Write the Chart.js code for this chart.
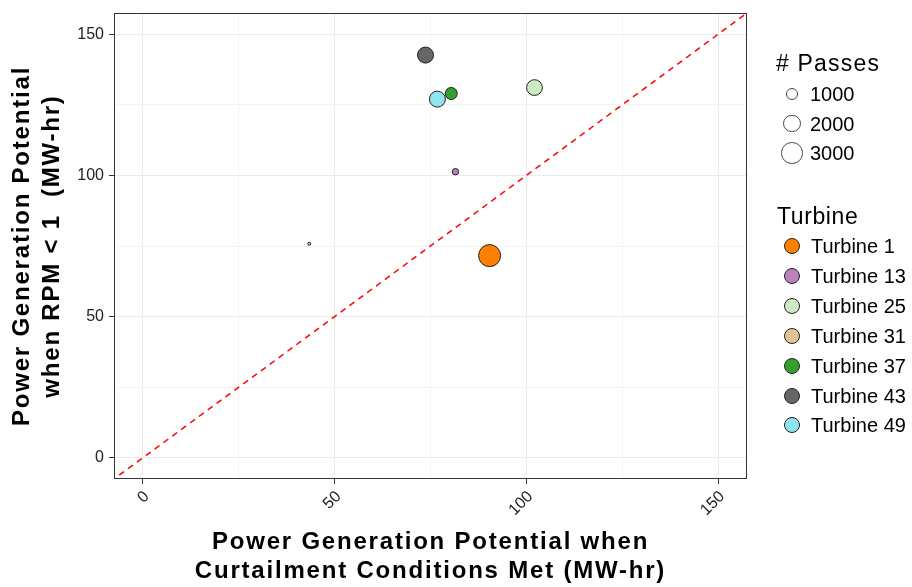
<!DOCTYPE html>
<html>
<head>
<meta charset="utf-8">
<script src="https://cdn.jsdelivr.net/npm/chart.js@4.4.1/dist/chart.umd.min.js"></script>
<style>
  html, body { margin: 0; padding: 0; background: #fff; }
  #wrap { position: relative; width: 912px; height: 587px; }
  #chart { position: absolute; left: 0; top: 0; }
  .lg { position: absolute; font-family: "Liberation Sans", Arial, sans-serif; color: #000;
        line-height: 1; white-space: pre; transform: translateY(-50%); }
  .dot { position: absolute; box-sizing: border-box; border-radius: 50%; }
</style>
</head>
<body>
<div id="wrap">
  <canvas id="chart" width="912" height="587"></canvas>
  <div id="legend"></div>
</div>
<script>
// data
const turbines = ['Turbine 1', 'Turbine 13', 'Turbine 25', 'Turbine 31', 'Turbine 37', 'Turbine 43', 'Turbine 49'];
const curtailPower = [90.4, 81.5, 102.1, 43.4, 80.4, 73.7, 76.8];
const rpmPower = [71.6, 101.3, 131.1, 75.8, 129.0, 142.6, 127.0];
const passes = [3480, 500, 1790, 400, 1100, 1850, 1840];
const passBreaks = [1000, 2000, 3000];
const axisLabels = [0, 50, 100, 150];
const gridVals = [0, 25, 50, 75, 100, 125, 150];

const turbineColors = ['#FF7F00', '#BC80BD', '#CCEBC5', '#E5C494', '#33A02C', '#666666', '#8FE4EE'];
const FONT = '"Liberation Sans", Arial, sans-serif';

// ggplot style area scale: diameter grows with sqrt of rescaled passes
const pMin = Math.min(...passes), pMax = Math.max(...passes);
function passDiameter(p) {
    return 4 + 19 * Math.sqrt(Math.max(0, p - pMin) / (pMax - pMin));
}

const datasets = turbines.map((name, i) => ({
    type: 'scatter',
    label: name,
    data: [{ x: curtailPower[i], y: rpmPower[i] }],
    backgroundColor: turbineColors[i],
    borderColor: '#222',
    borderWidth: 1,
    pointRadius: (passDiameter(passes[i]) - 1) / 2,
    pointHoverRadius: (passDiameter(passes[i]) - 1) / 2
}));

// 1:1 reference line
datasets.push({
    type: 'line',
    label: 'one-to-one',
    data: [{ x: -20, y: -20 }, { x: 180, y: 180 }],
    borderColor: '#FF0000',
    borderWidth: 1.5,
    borderDash: [6, 5],
    pointRadius: 0,
    fill: false
});

const gridColor = ctx => (ctx.tick && ctx.tick.value % 50 === 0) ? '#EBEBEB' : '#F3F3F3';
const tickColor = ctx => (ctx.tick && ctx.tick.value % 50 === 0) ? '#333' : 'rgba(0,0,0,0)';
const setTicks = s => { s.ticks = gridVals.map(v => ({ value: v })); };

// spaced-out title text like the reference, ticks are drawn separately
const spacingPlugin = {
    id: 'spacing',
    beforeDraw(chart) { chart.ctx.letterSpacing = '1.8px'; },
    beforeDatasetsDraw(chart) { chart.ctx.letterSpacing = '0px'; }
};

const panelPlugin = {
    id: 'panel',
    afterDraw(chart) {
        const { ctx, chartArea: a, scales: { x, y } } = chart;
        ctx.save();
        ctx.letterSpacing = '0px';
        ctx.strokeStyle = '#333';
        ctx.lineWidth = 1;
        ctx.strokeRect(Math.round(a.left) + 0.5, Math.round(a.top) + 0.5,
            Math.round(a.right - a.left) - 1, Math.round(a.bottom - a.top) - 1);

        ctx.font = '16px ' + FONT;
        ctx.fillStyle = '#222';
        // y tick labels
        ctx.textAlign = 'right';
        ctx.textBaseline = 'middle';
        axisLabels.forEach(v => {
            ctx.fillText(String(v), a.left - 10, y.getPixelForValue(v));
        });
        // x tick labels at 45 degrees
        axisLabels.forEach(v => {
            ctx.save();
            ctx.translate(x.getPixelForValue(v) + 4, a.bottom + 15);
            ctx.rotate(-Math.PI / 4);
            ctx.fillText(String(v), 0, 0);
            ctx.restore();
        });
        ctx.restore();
    }
};

new Chart(document.getElementById('chart'), {
    type: 'scatter',
    data: { datasets: datasets },
    options: {
        responsive: false,
        animation: false,
        layout: { padding: { left: 0, right: 165, top: 13, bottom: 0 } },
        plugins: { legend: { display: false }, tooltip: { enabled: false } },
        scales: {
            x: {
                type: 'linear',
                min: -7.5,
                max: 157.5,
                afterBuildTicks: setTicks,
                afterFit: s => { s.height = 108; },
                grid: { color: gridColor, tickColor: tickColor, tickLength: 5, lineWidth: 1 },
                border: { display: false },
                ticks: { color: 'rgba(0,0,0,0)', callback: v => '', maxRotation: 0 },
                title: {
                    display: true,
                    text: ['Power Generation Potential when', 'Curtailment Conditions Met (MW-hr)'],
                    color: '#000',
                    font: { family: FONT, size: 24, weight: 'bold', lineHeight: 1.2 },
                    padding: { top: 0, bottom: 1 }
                }
            },
            y: {
                type: 'linear',
                min: -7.5,
                max: 157.5,
                afterBuildTicks: setTicks,
                afterFit: s => { s.width = 114; },
                grid: { color: gridColor, tickColor: tickColor, tickLength: 5, lineWidth: 1 },
                border: { display: false },
                ticks: { color: 'rgba(0,0,0,0)', callback: v => '' },
                title: {
                    display: true,
                    text: ['Power Generation Potential', 'when RPM < 1  (MW-hr)'],
                    color: '#000',
                    font: { family: FONT, size: 24, weight: 'bold', lineHeight: 1.25 },
                    padding: { top: 7, bottom: 0 }
                }
            }
        }
    },
    plugins: [spacingPlugin, panelPlugin]
});

// legends on the right
const legendBox = document.getElementById('legend');
function addText(txt, x, cy, size, spacing) {
    const d = document.createElement('div');
    d.className = 'lg';
    d.textContent = txt;
    d.style.left = x + 'px';
    d.style.top = cy + 'px';
    d.style.fontSize = size + 'px';
    d.style.letterSpacing = (spacing || 0) + 'px';
    legendBox.appendChild(d);
}
function addDot(cx, cy, diam, fill) {
    const d = document.createElement('div');
    d.className = 'dot';
    d.style.width = diam + 'px';
    d.style.height = diam + 'px';
    d.style.left = (cx - diam / 2) + 'px';
    d.style.top = (cy - diam / 2) + 'px';
    d.style.background = fill;
    d.style.border = '1px solid ' + (fill === '#fff' ? '#444' : '#222');
    legendBox.appendChild(d);
}

addText('# Passes', 776, 63, 23, 1.2);
passBreaks.forEach((p, i) => {
    const cy = 94 + i * 29.5;
    addDot(792, cy, passDiameter(p), '#fff');
    addText(String(p), 810, cy, 20);
});

addText('Turbine', 777, 216, 23, 0.6);
turbines.forEach((name, i) => {
    const cy = 246 + i * 29.9;
    addDot(792, cy, 16, turbineColors[i]);
    addText(name, 811, cy, 20);
});
</script>
</body>
</html>
